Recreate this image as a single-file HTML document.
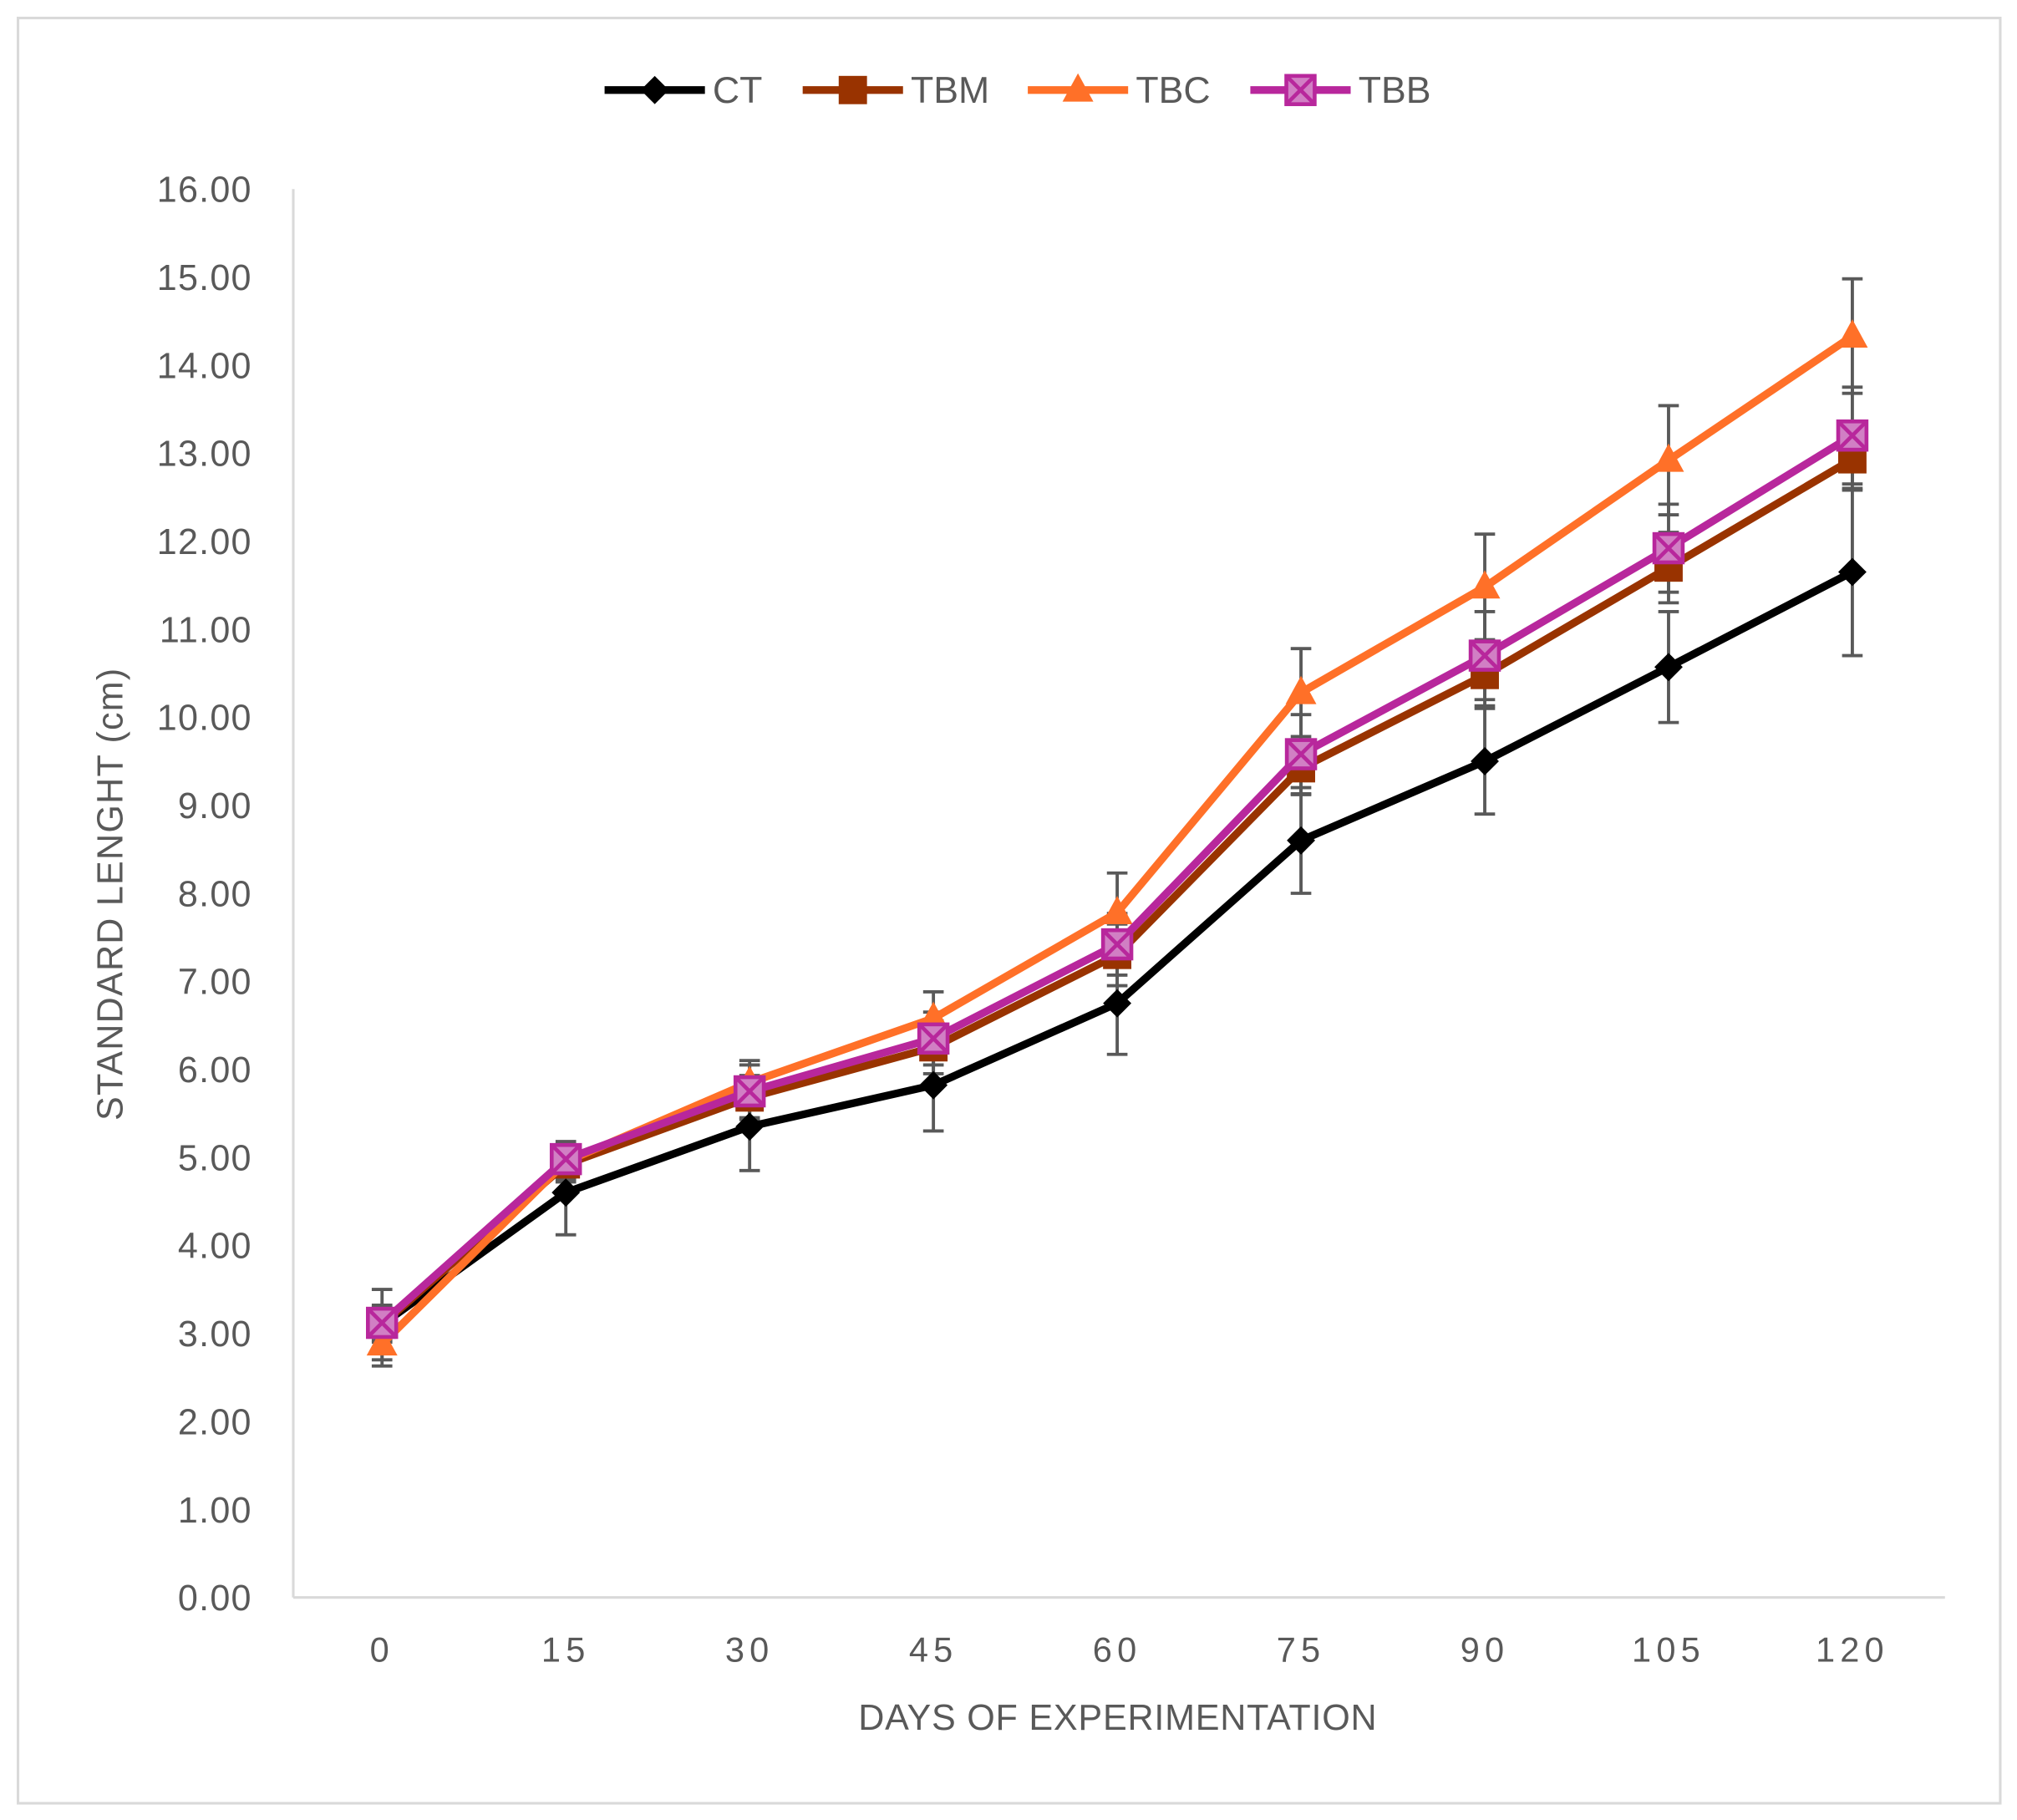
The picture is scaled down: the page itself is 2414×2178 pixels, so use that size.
<!DOCTYPE html>
<html><head><meta charset="utf-8"><style>
html,body{margin:0;padding:0;background:#fff;}
svg{display:block;}
text{font-family:"Liberation Sans",sans-serif;fill:#595959;}
</style></head><body>
<svg id="chart" width="2414" height="2178" viewBox="0 0 1568 1415" preserveAspectRatio="none" xmlns="http://www.w3.org/2000/svg">
<rect x="14" y="14" width="1541" height="1388" fill="#fff" stroke="#d9d9d9" stroke-width="2"/>
<g id="axes"></g>
<g id="series"></g>
<g id="legend"></g>
<text transform="translate(95,695) rotate(-90)" text-anchor="middle" font-size="28" letter-spacing="0.8">STANDARD LENGHT (cm)</text>
<text x="869" y="1345" text-anchor="middle" font-size="28" letter-spacing="0.5">DAYS OF EXPERIMENTATION</text>
</svg>
<script>
const categories=[0,15,30,45,60,75,90,105,120];
const yTicks=[0,1,2,3,4,5,6,7,8,9,10,11,12,13,14,15,16];
const seriesNames=["CT","TBM","TBC","TBB"];
const ctValues=[3.1,4.6,5.35,5.82,6.75,8.6,9.5,10.57,11.65];
const ctErr=[0.4,0.48,0.5,0.52,0.58,0.6,0.6,0.63,0.95];
const tbmValues=[3.1,4.92,5.68,6.25,7.3,9.42,10.48,11.7,12.93];
const tbmErr=[0.2,0.2,0.25,0.3,0.35,0.3,0.35,0.4,0.35];
const tbcValues=[2.88,4.95,5.85,6.58,7.78,10.28,11.48,12.92,14.33];
const tbcErr=[0.25,0.2,0.25,0.3,0.45,0.5,0.6,0.62,0.65];
const tbbValues=[3.12,4.98,5.75,6.35,7.42,9.58,10.7,11.92,13.2];
const tbbErr=[0.2,0.2,0.3,0.3,0.35,0.45,0.5,0.5,0.55];

const NS="http://www.w3.org/2000/svg";
const X0=297,X1=1440,Y0=1242,Y1=147;
const xs=d=>X0+(d-categories[0])/(categories[categories.length-1]-categories[0])*(X1-X0);
const ys=v=>Y0-(v-0)/16*(Y0-Y1);
function mk(tag,attrs,parent){const e=document.createElementNS(NS,tag);for(const k in attrs)e.setAttribute(k,attrs[k]);parent.appendChild(e);return e;}
const axes=document.getElementById('axes'),ser=document.getElementById('series'),leg=document.getElementById('legend');

let yl=mk('line',{x1:228,y1:147,x2:228,y2:1242,stroke:'#d9d9d9','stroke-width':2},axes);


let xl=mk('line',{x1:228,y1:1242,x2:1512,y2:1242,stroke:'#d9d9d9','stroke-width':2},axes);


yTicks.forEach(t=>{
  const e=mk('text',{x:196,y:ys(t)+10,'text-anchor':'end','font-size':28,'letter-spacing':'0.8'},axes);
  e.textContent=t.toFixed(2);
  
  
});
categories.forEach(c=>{
  const e=mk('text',{x:xs(c),y:1292,'text-anchor':'middle','font-size':27,'letter-spacing':'4'},axes);
  e.textContent=c;
  
  
});

const defs=[
 {name:'CT',vals:ctValues,err:ctErr,color:'#000000',marker:'diamond'},
 {name:'TBM',vals:tbmValues,err:tbmErr,color:'#993300',marker:'square'},
 {name:'TBC',vals:tbcValues,err:tbcErr,color:'#ff7028',marker:'triangle'},
 {name:'TBB',vals:tbbValues,err:tbbErr,color:'#b8279c',marker:'xsquare'}
];
function marker(g,type,x,y,color){
  let m;
  if(type==='diamond'){m=mk('polygon',{points:`${x},${y-11} ${x+11},${y} ${x},${y+11} ${x-11},${y}`,fill:color},g);}
  else if(type==='square'){m=mk('rect',{x:x-11,y:y-11,width:22,height:22,fill:color},g);}
  else if(type==='triangle'){m=mk('polygon',{points:`${x},${y-13} ${x+12},${y+9} ${x-12},${y+9}`,fill:color},g);}
  else{m=mk('g',{},g);mk('rect',{x:x-11,y:y-11,width:22,height:22,fill:'#d17fc4',stroke:color,'stroke-width':3},m);
    mk('path',{d:`M${x-10},${y-10}L${x+10},${y+10}M${x+10},${y-10}L${x-10},${y+10}`,stroke:color,'stroke-width':3},m);}
  return m;
}
defs.forEach(s=>{
  s.vals.forEach((v,i)=>{
    const x=xs(categories[i]);
    const eb=mk('path',{d:`M${x},${ys(v+s.err[i])}V${ys(v-s.err[i])}M${x-8},${ys(v+s.err[i])}h16M${x-8},${ys(v-s.err[i])}h16`,stroke:'#595959','stroke-width':2.5,fill:'none'},ser);
    
    
  });
});
defs.forEach(s=>{
  const g=mk('g',{},ser);
  
  
  const pl=mk('polyline',{points:s.vals.map((v,i)=>xs(categories[i])+','+ys(v)).join(' '),fill:'none',stroke:s.color,'stroke-width':6,'stroke-linejoin':'round'},g);
  
  
  s.vals.forEach((v,i)=>{
    const m=marker(g,s.marker,xs(categories[i]),ys(v),s.color);
    
    
  });
});
const lx=[470,624,799,972];
defs.forEach((s,i)=>{
  const g=mk('g',{},leg);
  
  
  mk('line',{x1:lx[i],y1:70,x2:lx[i]+78,y2:70,stroke:s.color,'stroke-width':6},g);
  marker(g,s.marker,lx[i]+39,70,s.color);
  const t=mk('text',{x:lx[i]+84,y:80,'font-size':29},g);
  t.textContent=s.name;
});
</script>
</body></html>
